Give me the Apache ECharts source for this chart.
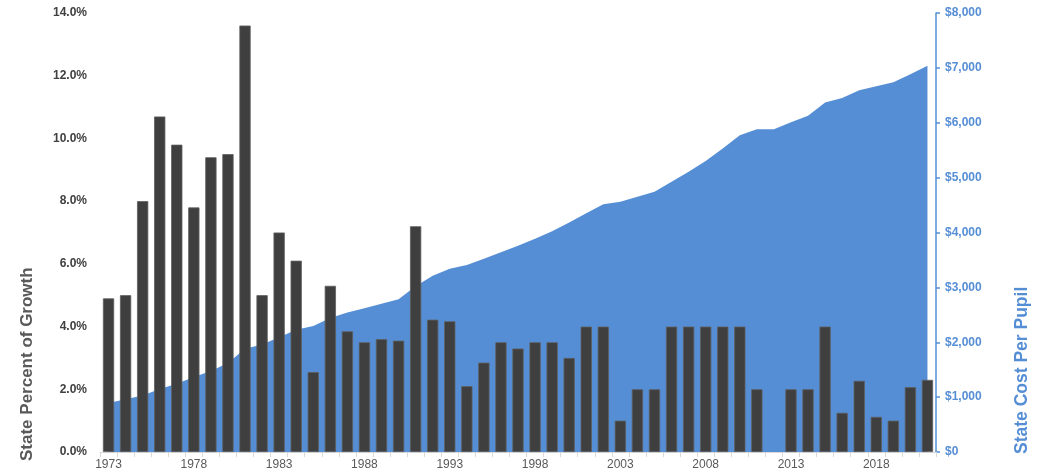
<!DOCTYPE html>
<html>
<head>
<meta charset="utf-8">
<script src="https://cdn.jsdelivr.net/npm/echarts@6/dist/echarts.min.js"></script>
<style>html,body{margin:0;padding:0;background:#fff;}#c{width:1041px;height:474px;}</style>
</head>
<body>
<div id="c"></div>
<script>
var years = [];
for (var y = 1973; y <= 2021; y++) years.push(String(y));

var growthPct = [4.9, 5.0, 8.0, 10.7, 9.8, 7.8, 9.4, 9.5, 13.6, 5.0,
  7.0, 6.1, 2.55, 5.3, 3.85, 3.5, 3.6, 3.55, 7.2, 4.22,
  4.17, 2.1, 2.85, 3.5, 3.3, 3.5, 3.5, 3.0, 4.0, 4.0,
  1.0, 2.0, 2.0, 4.0, 4.0, 4.0, 4.0, 4.0, 2.0, 0,
  2.0, 2.0, 4.0, 1.25, 2.27, 1.12, 1.0, 2.07, 2.3];

var costPerPupil = [895, 960, 1030, 1150, 1245, 1365, 1475, 1620, 1880, 1960,
  2090, 2230, 2295, 2440, 2540, 2620, 2700, 2785, 3020, 3210,
  3340, 3410, 3520, 3640, 3760, 3885, 4025, 4184, 4350, 4517,
  4559, 4650, 4741, 4924, 5106, 5301, 5532, 5774, 5880, 5880,
  6010, 6126, 6370, 6450, 6590, 6667, 6740, 6885, 7040];

var leftTicksMax = 14, leftInterval = 2;
var rightTicksMax = 8000, rightInterval = 1000;

var barData = growthPct.map(function (v) {
  return v === 0 ? { value: 0, itemStyle: { borderWidth: 0, opacity: 0 } } : v;
});

var chart = echarts.init(document.getElementById('c'));
chart.setOption({
  animation: false,
  grid: { left: 100, right: 105, top: 13, bottom: 22, containLabel: false },
  xAxis: {
    type: 'category',
    data: years,
    boundaryGap: true,
    axisLine: { show: true, lineStyle: { color: '#d9d9d9', width: 1 } },
    axisTick: { show: true, interval: 0, length: 5, lineStyle: { color: '#d9d9d9' } },
    axisLabel: { interval: 4, color: '#595959', fontSize: 12, fontFamily: 'Liberation Sans, Arial', margin: 7 },
    splitLine: { show: false }
  },
  yAxis: [{
    type: 'value',
    min: 0, max: leftTicksMax, interval: leftInterval,
    axisLine: { show: false },
    axisTick: { show: false },
    splitLine: { show: false },
    axisLabel: {
      formatter: function (v) { return v.toFixed(1) + '%'; },
      color: '#404040', fontSize: 12, fontWeight: 'bold', fontFamily: 'Liberation Sans, Arial', margin: 13
    }
  }, {
    type: 'value',
    position: 'right',
    min: 0, max: rightTicksMax, interval: rightInterval,
    axisLine: { show: true, lineStyle: { color: '#558ED5', width: 1.5 } },
    axisTick: { show: true, inside: false, length: 4, lineStyle: { color: '#558ED5', width: 1.5 } },
    splitLine: { show: false },
    axisLabel: {
      formatter: function (v) { return '$' + v.toLocaleString('en-US'); },
      color: '#558ED5', fontSize: 12, fontWeight: 'bold', fontFamily: 'Liberation Sans, Arial', margin: 9
    }
  }],
  graphic: [{
    type: 'text',
    style: { text: 'State Percent of Growth', fill: '#595959', font: 'bold 17px "Liberation Sans", Arial' },
    rotation: Math.PI / 2, x: 19, y: 461
  }, {
    type: 'text',
    style: { text: 'State Cost Per Pupil', fill: '#558ED5', font: 'bold 17.5px "Liberation Sans", Arial' },
    rotation: Math.PI / 2, x: 1013, y: 454
  }],
  series: [{
    name: 'State Cost Per Pupil',
    type: 'line',
    yAxisIndex: 1,
    data: costPerPupil,
    symbol: 'none',
    lineStyle: { width: 0 },
    areaStyle: { color: '#558ED5', opacity: 1 },
    z: 1
  }, {
    name: 'State Percent of Growth',
    type: 'bar',
    yAxisIndex: 0,
    data: barData,
    barCategoryGap: '34%',
    itemStyle: { color: '#3f3f3f', borderColor: '#5f5f5f', borderWidth: 0.8 },
    z: 2
  }]
});
</script>
</body>
</html>
